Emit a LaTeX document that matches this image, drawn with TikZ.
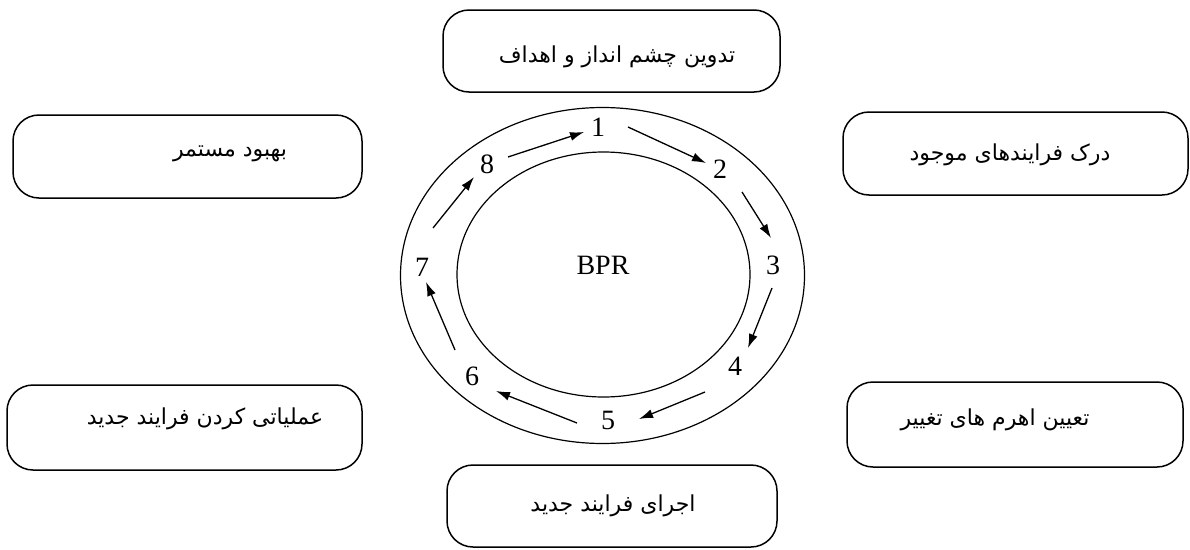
\documentclass[tikz,border=0pt]{standalone}
\usepackage{fontspec}
\setmainfont{Liberation Serif}
\newfontfamily\arabicfont[Script=Arabic]{DejaVu Sans}
\TeXXeTstate=1
\usetikzlibrary{arrows.meta,shapes.geometric}
\begin{document}
\begin{tikzpicture}[x=1pt,y=-1pt,
  stagebox/.style={draw, line width=1.5pt, rounded corners=26pt, inner sep=0pt},
  fatext/.style={inner sep=0pt, font=\arabicfont\fontsize{22}{26}\selectfont},
  numtext/.style={inner sep=1pt, font=\fontsize{28}{30}\selectfont},
  ring/.style={draw, line width=1.2pt},
  flow/.style={line width=1.3pt, -{Latex[length=14pt,width=9pt]}}]
\useasboundingbox (0,0) rectangle (1190,549);
% boxes
\node[stagebox, minimum width=337pt, minimum height=82pt] (btop) at (611.5,51) {};
\node[stagebox, minimum width=349pt, minimum height=83pt] (btl) at (187.5,156.5) {};
\node[stagebox, minimum width=345pt, minimum height=83pt] (btr) at (1015.5,153.5) {};
\node[stagebox, minimum width=355pt, minimum height=85pt] (bbl) at (184.5,427.5) {};
\node[stagebox, minimum width=336pt, minimum height=85pt] (bbr) at (1015,424.5) {};
\node[stagebox, minimum width=330pt, minimum height=82pt] (bbot) at (612,506) {};
% texts
\node[fatext] (ttop) at (617,57) {\beginR تدوین چشم انداز و اهداف\endR};
\node[fatext] (ttl) at (230,154) {\beginR بهبود مستمر\endR};
\node[fatext] (ttr) at (1010,155) {\beginR درک فرایندهای موجود\endR};
\node[fatext] (tbl) at (205,419) {\beginR عملیاتی کردن فرایند جدید\endR};
\node[fatext] (tbr) at (995,420) {\beginR تعیین اهرم های تغییر\endR};
\node[fatext] (tbot) at (613,506) {\beginR اجرای فرایند جدید\endR};
% rings
\node[ring, ellipse, minimum width=404pt, minimum height=336pt, inner sep=0pt] (outer) at (602.5,275.5) {};
\node[ring, ellipse, minimum width=293pt, minimum height=245pt, inner sep=0pt] (inner) at (603.5,274.5) {};
\node[numtext] (bpr) at (603,265) {BPR};
% numbers
\node[numtext] (n1) at (598,127) {1};
\node[numtext] (n2) at (720,169) {2};
\node[numtext] (n3) at (773,265) {3};
\node[numtext] (n4) at (735,366) {4};
\node[numtext] (n5) at (608,420) {5};
\node[numtext] (n6) at (472,376) {6};
\node[numtext] (n7) at (422,267) {7};
\node[numtext] (n8) at (487,164) {8};
% arrow ends
\coordinate (s12) at (628,127); \coordinate (e12) at (706,163);
\coordinate (s23) at (742,192); \coordinate (e23) at (771,238);
\coordinate (s34) at (772,288); \coordinate (e34) at (748,348);
\coordinate (s45) at (705,392); \coordinate (e45) at (639,419);
\coordinate (s56) at (577,423); \coordinate (e56) at (496,391);
\coordinate (s67) at (455,350); \coordinate (e67) at (426,282);
\coordinate (s78) at (433,228); \coordinate (e78) at (474,177);
\coordinate (s81) at (508,157); \coordinate (e81) at (584,132);
\draw[flow] (s12) -- (e12);
\draw[flow] (s23) -- (e23);
\draw[flow] (s34) -- (e34);
\draw[flow] (s45) -- (e45);
\draw[flow] (s56) -- (e56);
\draw[flow] (s67) -- (e67);
\draw[flow] (s78) -- (e78);
\draw[flow] (s81) -- (e81);
\end{tikzpicture}
\end{document}
